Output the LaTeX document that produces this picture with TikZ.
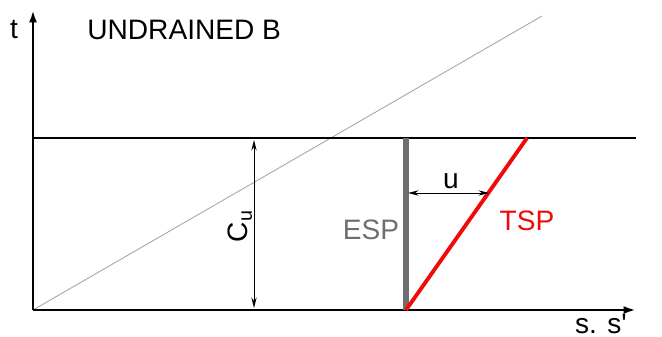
\documentclass[tikz,border=0pt]{standalone}
\usepackage{fontspec}
\setmainfont{Liberation Sans}
\usetikzlibrary{arrows.meta}
\definecolor{espgray}{RGB}{110, 110, 110}
\definecolor{tspred}{RGB}{240, 10, 10}

\begin{document}
\begin{tikzpicture}[x=0.02cm, y=-0.02cm,
	axis/.style={line width=1.4pt, -{Latex[length=7pt, width=4.5pt]}},
	dim/.style={line width=0.5pt, {Stealth[length=6pt, width=3pt]}-{Stealth[length=6pt, width=3pt]}},
	lbl/.style={font=\fontsize{16}{18}\selectfont, inner sep=0pt}]
	\useasboundingbox (0,0) rectangle (662,337);
	% points
	\coordinate (O) at (33,310);
	\coordinate (ttop) at (33,10);
	\coordinate (send) at (636,310);
	\coordinate (hl) at (33,138);
	\coordinate (hr) at (636,138);
	\coordinate (diag) at (542,16);
	\coordinate (espt) at (406,138);
	\coordinate (espb) at (406,310);
	\coordinate (tspt) at (527,138);
	% lines
	\draw[gray!70, line width=0.5pt] (O) -- (diag);
	\draw[line width=1.4pt] (hl) -- (hr);
	\draw[axis] (O) -- (send);
	\draw[axis] (O) -- (ttop);
	\draw[espgray, line width=3pt] (espt) -- (espb);
	\draw[tspred, line width=2.2pt] (espb) -- (tspt);
	% dimensions
	\draw[dim] (254,140) -- (254,308);
	\draw[dim] (408,193) -- (489,193);
	% labels
	\node[lbl] (t) at (14,30) {t};
	\node[lbl, anchor=west] (title) at (87,30) {UNDRAINED B};
	\node[lbl, rotate=90] (cu) at (240,226) {C\textsubscript{u}};
	\node[lbl] (u) at (451,181) {u};
	\node[lbl, espgray] (esp) at (371,230) {ESP};
	\node[lbl, tspred] (tsp) at (527,221) {TSP};
	\node[lbl] (ss) at (601,324) {s. s\textquotesingle};
\end{tikzpicture}
\end{document}
